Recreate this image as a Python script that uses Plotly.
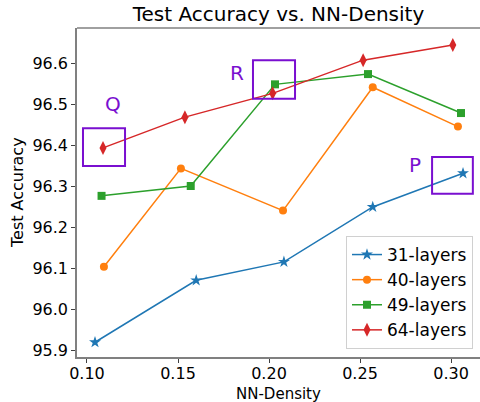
import plotly.graph_objects as go

# Data
x31 = [0.1044, 0.1600, 0.2082, 0.2570, 0.3066]
y31 = [95.919, 96.070, 96.115, 96.249, 96.331]
x40 = [0.1093, 0.1516, 0.2077, 0.2570, 0.3038]
y40 = [96.103, 96.343, 96.240, 96.541, 96.445]
x49 = [0.1080, 0.1570, 0.2033, 0.2544, 0.3055]
y49 = [96.276, 96.300, 96.548, 96.573, 96.478]
x64 = [0.1088, 0.1538, 0.2020, 0.2517, 0.3010]
y64 = [96.393, 96.468, 96.526, 96.607, 96.644]
series_names = ["31-layers", "40-layers", "49-layers", "64-layers"]

# annotation boxes: label, label x, label y, box x0, x1, y0, y1
boxes = [
    ("Q", 0.1143, 96.500, 0.0978, 0.1209, 96.349, 96.441),
    ("R", 0.1824, 96.575, 0.1912, 0.2143, 96.513, 96.607),
    ("P", 0.2800, 96.351, 0.2896, 0.3120, 96.281, 96.371),
]

colors = ["#1f77b4", "#ff7f0e", "#2ca02c", "#d62728"]
symbols = ["star", "circle", "square", "diamond-tall"]
sizes = [9, 8, 8, 10]
purple = "#7a0fd0"
FONT = "DejaVu Sans"

fig = go.Figure()
for xs, ys, name, c, s, sz in zip([x31, x40, x49, x64], [y31, y40, y49, y64],
                                  series_names, colors, symbols, sizes):
    fig.add_trace(go.Scatter(x=xs, y=ys, name=name, mode="lines+markers",
                             line=dict(color=c, width=1.5),
                             marker=dict(symbol=s, size=sz, color=c,
                                         line=dict(width=0))))

shapes = []
annotations = []
for lab, lx, ly, bx0, bx1, by0, by1 in boxes:
    shapes.append(dict(type="rect", xref="x", yref="y", x0=bx0, x1=bx1, y0=by0, y1=by1,
                       line=dict(color=purple, width=2)))
    annotations.append(dict(x=lx, y=ly, xref="x", yref="y", text=lab, showarrow=False,
                            font=dict(family=FONT, size=20, color=purple)))

# top spine
shapes.append(dict(type="line", xref="paper", yref="paper", x0=0, x1=1, y0=1, y1=1,
                   line=dict(color="#808080", width=1.5)))

annotations.append(dict(x=0.5, y=-0.1125, xref="paper", yref="paper", text="NN-Density",
                        showarrow=False, yanchor="middle",
                        font=dict(family=FONT, size=15, color="black")))
annotations.append(dict(x=-0.1476, y=0.5, xref="paper", yref="paper", text="Test Accuracy",
                        showarrow=False, textangle=-90, xanchor="center",
                        font=dict(family=FONT, size=16, color="black")))

fig.update_layout(
    width=480, height=402,
    margin=dict(l=77, r=0, t=28, b=45),
    paper_bgcolor="white", plot_bgcolor="white",
    font=dict(family=FONT, size=16, color="black"),
    title=dict(text="Test Accuracy vs. NN-Density", x=0.5, xanchor="center",
               xref="paper", y=1 - 14 / 402, yanchor="middle",
               font=dict(family=FONT, size=20, color="black")),
    shapes=shapes,
    annotations=annotations,
    legend=dict(x=0.9826, y=0.0243, xanchor="right", yanchor="bottom",
                bgcolor="white", bordercolor="#d0d0d0", borderwidth=1,
                font=dict(family=FONT, size=17), tracegroupgap=0),
    showlegend=True,
)
fig.update_xaxes(range=[0.09451, 0.31593], tickvals=[0.10, 0.15, 0.20, 0.25, 0.30],
                 ticktext=["0.10", "0.15", "0.20", "0.25", "0.30"],
                 showgrid=False, zeroline=False, showline=True, linecolor="#808080",
                 linewidth=1.5, ticks="outside", ticklen=4, tickcolor="#404040",
                 ticklabelstandoff=-3,
                 tickfont=dict(family=FONT, size=16))
fig.update_yaxes(range=[95.883, 96.6854],
                 tickvals=[95.9, 96.0, 96.1, 96.2, 96.3, 96.4, 96.5, 96.6],
                 ticktext=["95.9", "96.0", "96.1", "96.2", "96.3", "96.4", "96.5", "96.6"],
                 showgrid=False, zeroline=False, showline=True, linecolor="#808080",
                 linewidth=1.5, ticks="outside", ticklen=4, tickcolor="#404040",
                 tickfont=dict(family=FONT, size=16))

fig.write_html("out.html")
